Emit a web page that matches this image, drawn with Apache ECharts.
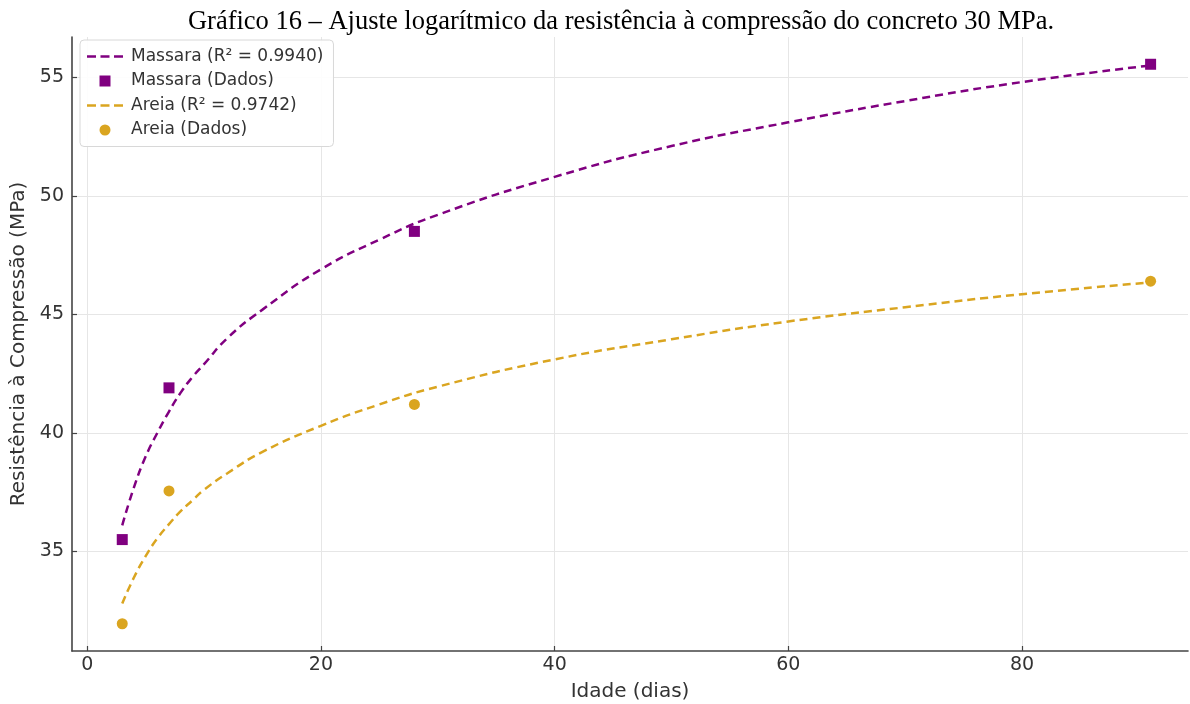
<!DOCTYPE html>
<html>
<head>
<meta charset="utf-8">
<script src="https://cdn.jsdelivr.net/npm/echarts@6/dist/echarts.min.js"></script>
<style>
  html, body { margin: 0; padding: 0; background: #fff; }
  #chart { width: 1190px; height: 704px; }
</style>
</head>
<body>
<div id="chart"></div>
<script>
// idades dos ensaios (dias)
var idades = [3, 7, 28, 91];
var massaraDados = [35.5, 41.9, 48.5, 55.55];
var areiaDados = [31.95, 37.55, 41.2, 46.4];

// curvas de ajuste
var curvaX = [3, 4, 5, 6, 7, 8, 9, 10, 12, 15, 20, 25, 30, 40, 50, 60, 70, 80, 91];
var massaraAjuste = [36.1, 37.7, 39.0, 40.0, 40.9, 41.7, 42.35, 42.9, 44.0, 45.2, 46.9, 48.15, 49.2, 50.8, 52.1, 53.1, 54.0, 54.8, 55.5];
var areiaAjuste = [32.8, 33.9, 34.8, 35.55, 36.15, 36.7, 37.15, 37.6, 38.3, 39.2, 40.3, 41.2, 41.95, 43.1, 43.95, 44.7, 45.3, 45.85, 46.35];

var xTicks = [0, 20, 40, 60, 80];
var yTicks = [35, 40, 45, 50, 55];

function pares(xs, ys) {
    var out = [];
    for (var i = 0; i < xs.length; i++) {
        out.push([xs[i], ys[i]]);
    }
    return out;
}

var roxo = '#800080';
var dourado = '#DAA520';

// icones da legenda (pontos vazios so para fixar o tamanho da caixa)
var iconeTracejado = 'path://M0,5.8h9v2.4h-9z M13.5,5.8h9v2.4h-9z M27,5.8h9v2.4h-9z M0,0L0,0 M36,14L36,14';
var iconeQuadrado = 'path://M1.5,1.5h11v11h-11z M0,0L0,0 M14,14L14,14';
var iconeCirculo = 'path://M7,1.5A5.5,5.5 0 1 1 7,12.5A5.5,5.5 0 1 1 7,1.5z M0,0L0,0 M14,14L14,14';

var myChart = echarts.init(document.getElementById('chart'));

var option = {
    backgroundColor: '#fff',
    animation: false,
    title: {
        text: 'Gráfico 16 – Ajuste logarítmico da resistência à compressão do concreto 30 MPa.',
        left: 616,
        textAlign: 'center',
        top: 4,
        textStyle: {
            fontFamily: 'Liberation Serif',
            fontSize: 26.5,
            fontWeight: 'normal',
            color: '#000'
        }
    },
    legend: {
        orient: 'vertical',
        left: 80,
        top: 40,
        padding: [8, 10, 8, 7],
        itemGap: 7.5,
        itemWidth: 42,
        itemHeight: 14,
        symbolKeepAspect: true,
        backgroundColor: 'rgba(255,255,255,0.9)',
        borderColor: '#d8d8d8',
        borderWidth: 1,
        borderRadius: 4,
        textStyle: {
            fontFamily: 'DejaVu Sans',
            fontSize: 17,
            color: '#333'
        },
        data: [
            { name: 'Massara (R² = 0.9940)', icon: iconeTracejado, itemStyle: { borderWidth: 0 } },
            { name: 'Massara (Dados)', icon: iconeQuadrado, itemStyle: { borderWidth: 0 } },
            { name: 'Areia (R² = 0.9742)', icon: iconeTracejado, itemStyle: { borderWidth: 0 } },
            { name: 'Areia (Dados)', icon: iconeCirculo, itemStyle: { borderWidth: 0 } }
        ]
    },
    grid: {
        left: 72,
        right: 2,
        top: 37,
        bottom: 53,
        outerBoundsMode: 'none',
        containLabel: false
    },
    xAxis: {
        type: 'value',
        min: -1.3,
        max: 94.2,
        name: 'Idade (dias)',
        nameLocation: 'middle',
        nameGap: 31,
        nameTextStyle: {
            fontFamily: 'DejaVu Sans',
            fontSize: 20,
            color: '#333'
        },
        axisLine: { show: true, onZero: false, lineStyle: { color: '#444', width: 1.6 } },
        axisTick: { show: true, inside: true, customValues: xTicks, length: 5, lineStyle: { color: '#444', width: 1.2 } },
        axisLabel: {
            customValues: xTicks,
            fontFamily: 'DejaVu Sans',
            fontSize: 19,
            color: '#333',
            margin: 5
        },
        splitLine: { show: true, lineStyle: { color: '#e6e6e6', width: 1 } }
    },
    yAxis: {
        type: 'value',
        min: 30.8,
        max: 56.7,
        name: 'Resistência à Compressão (MPa)',
        nameLocation: 'middle',
        nameGap: 40,
        nameTextStyle: {
            fontFamily: 'DejaVu Sans',
            fontSize: 20,
            color: '#333'
        },
        axisLine: { show: true, onZero: false, lineStyle: { color: '#444', width: 1.6 } },
        axisTick: { show: true, inside: true, customValues: yTicks, length: 5, lineStyle: { color: '#444', width: 1.2 } },
        axisLabel: {
            customValues: yTicks,
            fontFamily: 'DejaVu Sans',
            fontSize: 19,
            color: '#333',
            margin: 8
        },
        splitLine: { show: true, lineStyle: { color: '#e6e6e6', width: 1 } }
    },
    series: [
        {
            name: 'Massara (R² = 0.9940)',
            type: 'line',
            smooth: true,
            symbol: 'none',
            data: pares(curvaX, massaraAjuste),
            itemStyle: { color: roxo },
            lineStyle: { color: roxo, width: 2.5, type: [8, 5] },
            z: 2
        },
        {
            name: 'Massara (Dados)',
            type: 'scatter',
            symbol: 'rect',
            symbolSize: 11,
            data: pares(idades, massaraDados),
            itemStyle: { color: roxo, opacity: 1 },
            z: 3
        },
        {
            name: 'Areia (R² = 0.9742)',
            type: 'line',
            smooth: true,
            symbol: 'none',
            data: pares(curvaX, areiaAjuste),
            itemStyle: { color: dourado },
            lineStyle: { color: dourado, width: 2.5, type: [8, 5] },
            z: 2
        },
        {
            name: 'Areia (Dados)',
            type: 'scatter',
            symbol: 'circle',
            symbolSize: 11,
            data: pares(idades, areiaDados),
            itemStyle: { color: dourado, opacity: 1 },
            z: 3
        }
    ]
};

myChart.setOption(option);
</script>
</body>
</html>
